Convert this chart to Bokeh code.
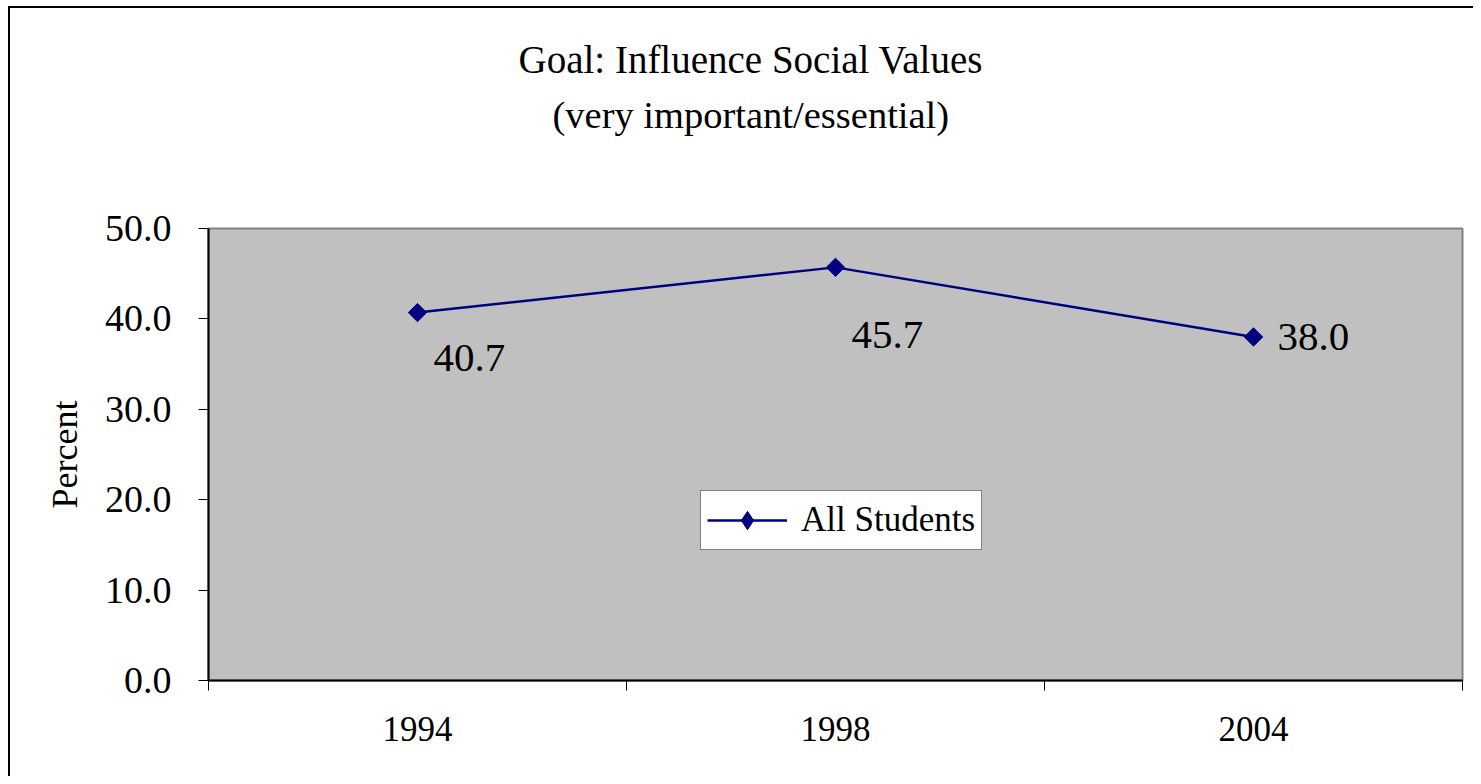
import numpy as np
from bokeh.plotting import figure
from bokeh.models import (ColumnDataSource, FixedTicker, LabelSet, Legend, Title,
                          LegendItem, Range1d, NumeralTickFormatter)
from bokeh.embed import file_html
from bokeh.resources import INLINE

# ---- data ----
years = ["1994", "1998", "2004"]
values = [40.7, 45.7, 38.0]
value_labels = ["40.7", "45.7", "38.0"]
label_dx = [16, 16, 24]
label_dy = [-45, -68, 0]
title_lines = ["Goal: Influence Social Values", "(very important/essential)"]
series_name = "All Students"
y_ticks = [0, 10, 20, 30, 40, 50]

FONT = "Liberation Serif"
NAVY = "#000080"

xpos = np.arange(len(years)) + 0.5
src = ColumnDataSource(dict(x=xpos, y=values, lab=value_labels, dx=label_dx, dy=label_dy))

p = figure(width=1465, height=770, output_backend="svg", toolbar_location=None,
           x_range=Range1d(0, len(years)), y_range=Range1d(0, 50),
           min_border_left=198, min_border_right=13, min_border_top=220, min_border_bottom=98)
p.styles = {"border-top": "2px solid black", "border-left": "2px solid black",
            "margin-left": "8px", "margin-top": "6px"}

p.background_fill_color = "#C0C0C0"
p.border_fill_color = "white"
p.outline_line_color = "#808080"
p.outline_line_width = 2
p.xgrid.visible = False
p.ygrid.visible = False

# titles: spacer (nearest frame), second line, then the main title outermost
spacer = Title(text=" ", text_font_size="1px", standoff=90)
p.add_layout(spacer, "above")
t2 = Title(text=title_lines[1], align="left", offset=344, text_font=FONT,
           text_font_style="normal", text_font_size="38.5px", text_color="black", standoff=0)
p.add_layout(t2, "above")
p.title.text = title_lines[0]
p.title.align = "left"
p.title.offset = 310
p.title.text_font = FONT
p.title.text_font_style = "normal"
p.title.text_font_size = "39px"
p.title.text_color = "black"
p.title.standoff = 22

# y axis
p.yaxis.ticker = FixedTicker(ticks=y_ticks, minor_ticks=[])
p.yaxis.formatter = NumeralTickFormatter(format="0.0")
p.yaxis.major_tick_out = 10
p.yaxis.major_tick_in = 0
p.yaxis.major_label_standoff = 27
p.yaxis.axis_label = "Percent"
p.yaxis.axis_label_text_font = FONT
p.yaxis.axis_label_text_font_style = "normal"
p.yaxis.axis_label_text_font_size = "36px"
p.yaxis.axis_label_text_color = "black"
p.yaxis.axis_label_standoff = 17
p.yaxis.major_label_text_font = FONT
p.yaxis.major_label_text_font_size = "38px"
p.yaxis.major_label_text_color = "black"
p.yaxis.axis_line_color = "black"
p.yaxis.axis_line_width = 2
p.yaxis.major_tick_line_color = "black"

# x axis: labels at category centres, ticks at boundaries
p.xaxis.ticker = FixedTicker(ticks=list(xpos), minor_ticks=list(range(len(years) + 1)))
p.xaxis.major_label_overrides = {float(x): y for x, y in zip(xpos, years)}
p.xaxis.major_tick_out = 0
p.xaxis.major_tick_in = 0
p.xaxis.minor_tick_out = 10
p.xaxis.minor_tick_in = 0
p.xaxis.minor_tick_line_color = "black"
p.xaxis.major_label_standoff = 26
p.xaxis.major_label_text_font = FONT
p.xaxis.major_label_text_font_size = "35px"
p.xaxis.major_label_text_color = "black"
p.xaxis.axis_line_color = "black"
p.xaxis.axis_line_width = 2

line = p.line("x", "y", source=src, line_color=NAVY, line_width=2.5)
pts = p.scatter("x", "y", source=src, marker="square", angle=np.pi / 4, size=13,
                fill_color=NAVY, line_color=NAVY)
# marker used only for the legend swatch (its point lies outside the visible range)
legend_marker = p.scatter(x=[-10], y=[-10], marker="diamond", size=22,
                          fill_color=NAVY, line_color=NAVY)

labels = LabelSet(x="x", y="y", text="lab", source=src, x_offset="dx", y_offset="dy",
                  text_font=FONT, text_font_size="41px", text_align="left",
                  text_baseline="middle", text_color="black")
p.add_layout(labels)

legend = Legend(items=[LegendItem(label=series_name, renderers=[line, legend_marker])],
                location=(492, 130), orientation="vertical",
                background_fill_color="white", background_fill_alpha=1.0,
                border_line_color="black", border_line_width=1,
                label_text_font=FONT, label_text_font_size="35px", label_text_color="black",
                glyph_width=80, glyph_height=46, label_standoff=14,
                padding=6, margin=0, spacing=0)
p.add_layout(legend)

open("out.html", "w").write(file_html(p, INLINE))
